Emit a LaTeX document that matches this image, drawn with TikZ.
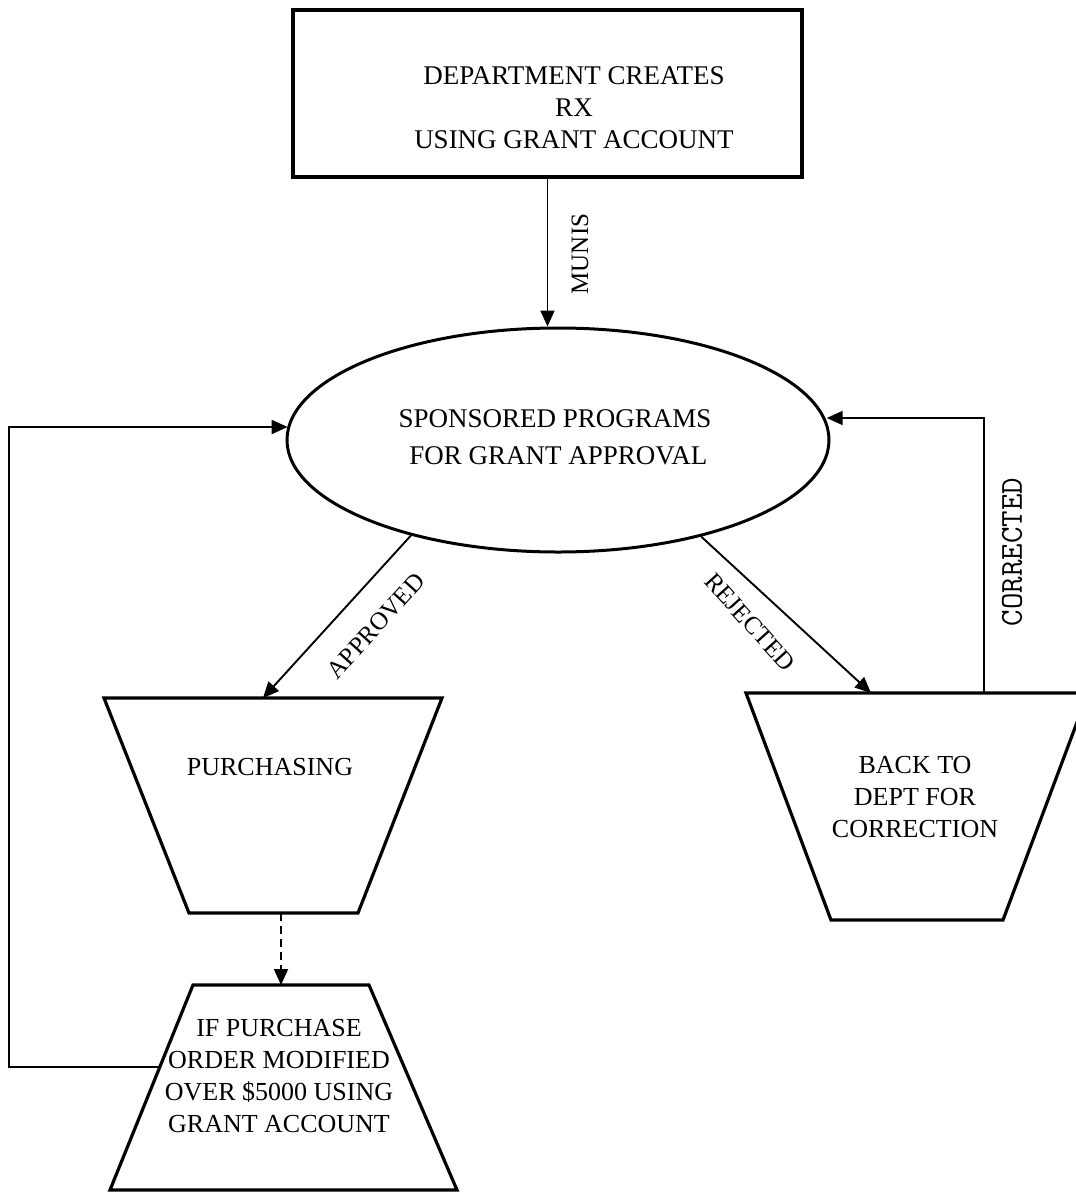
\documentclass[tikz,border=0pt]{standalone}
\usepackage{fontspec}
\setmainfont{Liberation Serif}
\usetikzlibrary{arrows.meta,shapes.geometric}
\begin{document}
\begin{tikzpicture}[x=1pt,y=-1pt,
  box/.style={draw, line width=3.2pt, line join=miter},
  conn/.style={line width=1.9pt, -{Triangle[length=16pt,width=14pt]}},
  txt/.style={align=center, font=\fontsize{26}{32}\selectfont, inner sep=0pt},
  bigtxt/.style={align=center, font=\fontsize{27}{32}\selectfont, inner sep=0pt},
  lbl/.style={font=\fontsize{25}{30}\selectfont, inner sep=0pt}]
\useasboundingbox (0,0) rectangle (1076,1192);
\fill[white] (0,0) rectangle (1076,1192);
\begin{scope}
\clip (0,0) rectangle (1076,1192);
% top box
\node[box, minimum width=509pt, minimum height=167pt, inner sep=0pt] (dept) at (547.5,93.5) {};
\node[bigtxt] (depttext) at (574,108) {DEPARTMENT CREATES\\RX\\USING GRANT ACCOUNT};
% ellipse
\node[ellipse, draw, line width=3pt, minimum width=542pt, minimum height=224pt, inner sep=0pt] (sp) at (558,440) {};
\node[bigtxt, font=\fontsize{27}{37}\selectfont] (sptext) at (555,437) {SPONSORED PROGRAMS\\\ FOR GRANT APPROVAL};
% purchasing
\draw[box] (104,698) coordinate (pu-tl) -- (442,698) coordinate (pu-tr) -- (358,913) coordinate (pu-br) -- (189,913) coordinate (pu-bl) -- cycle;
\node[txt] (putext) at (270,767) {PURCHASING};
\coordinate (pu-in) at (263,698);
\coordinate (pu-out) at (281,913);
% back to dept
\draw[box] (746,693) coordinate (bk-tl) -- (1088,693) coordinate (bk-tr) -- (1003,920) coordinate (bk-br) -- (831,920) coordinate (bk-bl) -- cycle;
\node[txt] (bktext) at (915,797) {BACK TO\\DEPT FOR\\CORRECTION};
\coordinate (bk-in) at (871,693);
\coordinate (bk-out) at (984,693);
% if purchase order
\draw[box] (193,985) coordinate (if-tl) -- (369,985) coordinate (if-tr) -- (457,1190) coordinate (if-br) -- (110,1190) coordinate (if-bl) -- cycle;
\node[txt] (iftext) at (279,1076.5) {IF PURCHASE\\ORDER MODIFIED\\OVER \$5000 USING\\GRANT ACCOUNT};
\coordinate (if-in) at (281,985);
\coordinate (if-out) at (160,1067);
% connectors
\draw[conn] (dept.south) -- (dept.south |- sp.north);
\node[lbl, rotate=90] (munis) at (580,254) {MUNIS};
\draw[conn] (sp.213) -- (pu-in);
\node[lbl, rotate=48] (appr) at (376,626) {APPROVED};
\draw[conn] (sp.-34) -- (bk-in);
\node[lbl, rotate=-48] (rej) at (750,622) {REJECTED};
\coordinate (cr-c) at (984,418);
\draw[conn] (bk-out) -- (cr-c) -- (cr-c -| sp.4.7);
\node[font=\ttfamily\fontsize{32}{34}\selectfont, inner sep=0pt, rotate=90] (corr) at (1012,552) {CORRECTED};
\draw[conn, dash pattern=on 8pt off 5pt] (pu-out) -- (if-in);
\coordinate (lf-b) at (9,1067);
\coordinate (lf-c) at (9,427);
\draw[conn] (if-out) -- (lf-b) -- (lf-c) -- (lf-c -| sp.177);
\end{scope}
\end{tikzpicture}
\end{document}
